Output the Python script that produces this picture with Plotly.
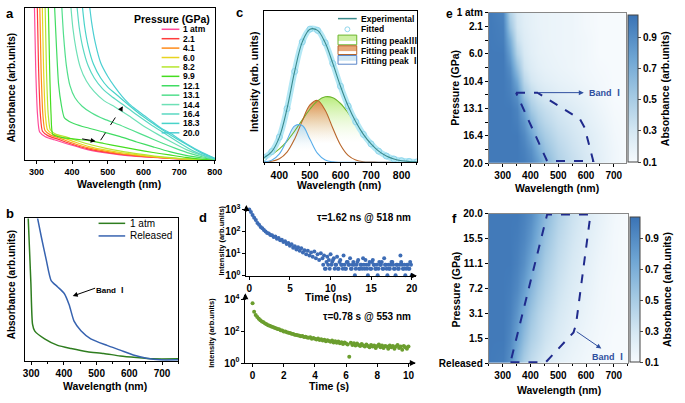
import plotly.graph_objects as go

W, H = 685, 403
FONT = "Liberation Sans, Arial, sans-serif"
CJK = "<span style=\"font-family:'Noto Sans CJK SC'\">{}</span>"


def px(x):
    return x / W


def py(y):
    return 1 - y / H


# ---------------- (a) absorption spectra under pressure
a_labels = ['1 atm', '2.1', '4.1', '6.0', '8.2', '9.9', '12.1', '13.1', '14.4', '16.4', '18.3', '20.0']
a_colors = ['#ff4b9b', '#ff3b3b', '#ff8c1a', '#e8d420', '#b6e62e', '#45dd1f',
            '#40dc62', '#52df8c', '#6ee0b6', '#5ad8c2', '#49d3c9', '#4ccfd2']

wl_1atm = [294, 298, 303, 309, 325, 350, 397, 443, 490, 535, 580, 627, 673, 719, 760, 800]
ab_1atm = [1.05, 0.6, 0.3, 0.185, 0.155, 0.135, 0.1, 0.07, 0.05, 0.036, 0.026, 0.018, 0.012, 0.007, 0.003, 0.0]
wl_2p1 = [302, 306, 311, 317, 333, 358, 400, 445, 490, 535, 580, 627, 673, 719, 760, 800]
ab_2p1 = [1.05, 0.6, 0.3, 0.19, 0.16, 0.14, 0.105, 0.075, 0.055, 0.04, 0.029, 0.02, 0.013, 0.007, 0.003, 0.0]
wl_4p1 = [309, 313, 318, 324, 340, 365, 405, 448, 492, 537, 582, 627, 673, 719, 760, 800]
ab_4p1 = [1.05, 0.6, 0.3, 0.195, 0.165, 0.145, 0.11, 0.08, 0.06, 0.043, 0.031, 0.022, 0.014, 0.008, 0.003, 0.0]
wl_6p0 = [316, 320, 325, 331, 347, 372, 410, 450, 495, 540, 585, 630, 675, 720, 760, 800]
ab_6p0 = [1.05, 0.6, 0.3, 0.2, 0.17, 0.15, 0.118, 0.088, 0.066, 0.048, 0.035, 0.024, 0.015, 0.008, 0.003, 0.0]
wl_8p2 = [324, 328, 333, 339, 355, 380, 415, 455, 495, 540, 585, 630, 675, 720, 760, 800]
ab_8p2 = [1.05, 0.6, 0.3, 0.2, 0.17, 0.155, 0.128, 0.1, 0.078, 0.058, 0.042, 0.028, 0.017, 0.009, 0.004, 0.0]
wl_9p9 = [333, 337, 341, 346, 370, 397, 420, 443, 489, 535, 580, 627, 673, 719, 760, 800]
ab_9p9 = [1.05, 0.6, 0.3, 0.17, 0.15, 0.142, 0.136, 0.13, 0.11, 0.089, 0.07, 0.051, 0.035, 0.019, 0.008, 0.001]
wl_12p1 = [350, 356, 362, 370, 378, 392, 406, 440, 489, 535, 581, 627, 673, 719, 765, 800]
ab_12p1 = [1.05, 0.75, 0.5, 0.36, 0.28, 0.255, 0.24, 0.215, 0.185, 0.155, 0.12, 0.088, 0.057, 0.032, 0.015, 0.004]
wl_13p1 = [370, 376, 384, 394, 408, 428, 455, 490, 530, 570, 610, 650, 690, 730, 770, 800]
ab_13p1 = [1.05, 0.82, 0.62, 0.49, 0.41, 0.355, 0.31, 0.27, 0.235, 0.195, 0.155, 0.115, 0.078, 0.045, 0.02, 0.006]
wl_14p4 = [395, 402, 411, 423, 440, 462, 490, 520, 560, 600, 640, 680, 720, 765, 800]
ab_14p4 = [1.05, 0.87, 0.73, 0.61, 0.52, 0.45, 0.39, 0.35, 0.29, 0.225, 0.17, 0.118, 0.07, 0.03, 0.007]
wl_16p4 = [412, 420, 430, 445, 462, 485, 510, 540, 580, 620, 660, 700, 740, 780, 800]
ab_16p4 = [1.05, 0.87, 0.74, 0.62, 0.54, 0.47, 0.42, 0.37, 0.3, 0.235, 0.175, 0.115, 0.06, 0.022, 0.01]
wl_18p3 = [427, 435, 445, 460, 480, 500, 530, 560, 600, 640, 680, 720, 760, 800]
ab_18p3 = [1.05, 0.88, 0.75, 0.63, 0.54, 0.48, 0.42, 0.36, 0.285, 0.22, 0.16, 0.105, 0.05, 0.012]
wl_20p0 = [447, 455, 465, 480, 500, 520, 540, 560, 581, 604, 627, 650, 673, 719, 765, 800]
ab_20p0 = [1.05, 0.9, 0.77, 0.64, 0.55, 0.48, 0.42, 0.37, 0.33, 0.29, 0.25, 0.21, 0.18, 0.11, 0.05, 0.012]

a_curves = [(wl_1atm, ab_1atm), (wl_2p1, ab_2p1), (wl_4p1, ab_4p1), (wl_6p0, ab_6p0),
            (wl_8p2, ab_8p2), (wl_9p9, ab_9p9), (wl_12p1, ab_12p1), (wl_13p1, ab_13p1),
            (wl_14p4, ab_14p4), (wl_16p4, ab_16p4), (wl_18p3, ab_18p3), (wl_20p0, ab_20p0)]

# ---------------- (b) 1 atm vs released
wl_b_atm = [290, 299, 304, 311, 341, 381, 422, 472, 522, 572, 622, 673, 750]
ab_b_atm = [1.05, 0.55, 0.26, 0.21, 0.156, 0.11, 0.088, 0.066, 0.054, 0.036, 0.025, 0.016, 0.016]
wl_b_rel = [317, 331, 346, 361, 381, 401, 416, 431, 452, 482, 532, 572, 612, 653, 693, 750]
ab_b_rel = [1.03, 0.87, 0.71, 0.565, 0.52, 0.474, 0.395, 0.28, 0.213, 0.156, 0.11, 0.077, 0.043, 0.02, 0.009, 0.009]

# ---------------- (c) PL fit
c_wl = [350, 375, 400, 425, 450, 475, 500, 525, 550, 575, 600, 625, 650, 675, 700, 725, 750, 775, 800, 825, 850]
c_exp = [0.03, 0.07, 0.166, 0.354, 0.6, 0.795, 0.879, 0.871, 0.789, 0.652, 0.502, 0.371, 0.267, 0.184,
         0.121, 0.073, 0.041, 0.021, 0.01, 0.005, 0.002]
c_peak1 = [0.002, 0.013, 0.055, 0.147, 0.24, 0.242, 0.151, 0.058, 0.014, 0.002, 0, 0, 0, 0, 0, 0, 0, 0, 0, 0, 0]
c_peak2 = [0.001, 0.006, 0.023, 0.067, 0.154, 0.273, 0.378, 0.408, 0.343, 0.224, 0.114, 0.045, 0.014,
           0.003, 0.001, 0, 0, 0, 0, 0, 0]
c_peak3 = [0.027, 0.051, 0.088, 0.14, 0.206, 0.28, 0.35, 0.405, 0.432, 0.426, 0.388, 0.326, 0.253,
           0.181, 0.12, 0.073, 0.041, 0.021, 0.01, 0.005, 0.002]

# ---------------- (d) decays
d_ns_counts = [1000, 760, 560, 420, 330, 240, 200, 160, 140, 115, 100, 85, 80, 68, 66, 55, 58, 46, 50, 40,
               42, 33, 36, 27, 30, 22, 26, 18, 21, 15, 19, 13, 17, 11, 14, 9, 13, 8, 11, 7,
               12, 6, 9, 5, 10, 6, 8, 2, 7, 5, 9, 4, 6, 3, 7, 2, 5, 3, 8, 2,
               4, 3, 6, 2, 4, 1, 3, 5, 2, 3, 6, 2, 3, 1, 4, 2, 5, 3, 2, 1,
               4, 3, 2, 6, 3, 1, 2, 3, 4, 2, 1, 3, 2, 8, 3, 2, 1, 3, 2, 4, 1]
d_ns_t = [i * 0.2 for i in range(len(d_ns_counts))]
d_ns_floor = [3, 2, 4, 3, 2, 3, 5, 2, 3, 2, 4, 3, 2, 3, 2, 4, 3, 2, 3, 3, 2, 4, 2, 3, 2, 3, 5, 2,
              3, 2, 4, 3, 2, 3, 2, 3, 4, 2, 3, 2, 3, 2, 4, 3, 2, 3, 2, 3, 4, 2, 3, 2, 3, 2, 3]
d_ns_floor_t = [9.1 + i * 0.2 for i in range(len(d_ns_floor))]

d_s_counts = [6000, 1800, 1100, 820, 640, 520, 430, 380, 320, 290,
              250, 230, 205, 190, 170, 160, 145, 138, 120, 115,
              100, 98, 88, 84, 80, 72, 70, 63, 60, 58,
              54, 50, 52, 44, 47, 42, 40, 43, 35, 38,
              34, 31, 36, 29, 32, 27, 30, 24, 28, 25,
              22, 27, 20, 24, 19, 23, 18, 21, 16, 20,
              17, 15, 2.5, 19, 14, 18, 13, 17, 14, 12,
              16, 13, 11, 15, 12, 10, 14, 11, 13, 9,
              12, 15, 10, 13, 9, 12, 11, 8, 13, 10,
              12, 8, 11, 14, 9, 11, 7, 12, 10, 8, 11]
d_s_t = [i * 0.1 for i in range(len(d_s_counts))]

# ---------------- (e) / (f) absorbance maps
hm_wl = [250, 300, 325, 350, 375, 400, 425, 450, 500, 550, 600, 650, 700, 750]
e_pressures = ['1 atm', '2.1', '4.1', '6.0', '8.2', '10.4', '12.1', '13.1', '14.4', '16.4', '18.3', '20.0']
e_labelled = [0, 1, 3, 5, 7, 9, 11]
e_z = [
    [1.0, 0.95, 0.45, 0.28, 0.22, 0.2, 0.18, 0.17, 0.16, 0.15, 0.12, 0.1, 0.1, 0.1],
    [1.0, 0.97, 0.55, 0.3, 0.23, 0.2, 0.18, 0.17, 0.16, 0.15, 0.12, 0.1, 0.1, 0.1],
    [1.0, 0.98, 0.7, 0.35, 0.25, 0.21, 0.19, 0.17, 0.16, 0.15, 0.13, 0.1, 0.1, 0.1],
    [1.0, 1.0, 0.8, 0.45, 0.28, 0.22, 0.19, 0.18, 0.16, 0.15, 0.13, 0.1, 0.1, 0.1],
    [1.0, 1.0, 0.9, 0.6, 0.33, 0.25, 0.21, 0.19, 0.17, 0.15, 0.13, 0.11, 0.1, 0.1],
    [1.0, 1.0, 0.95, 0.75, 0.42, 0.3, 0.25, 0.22, 0.19, 0.17, 0.14, 0.12, 0.1, 0.1],
    [1.0, 1.0, 0.97, 0.88, 0.55, 0.4, 0.32, 0.28, 0.23, 0.2, 0.17, 0.13, 0.1, 0.1],
    [1.0, 1.0, 1.0, 0.95, 0.75, 0.52, 0.42, 0.36, 0.29, 0.25, 0.2, 0.15, 0.11, 0.1],
    [1.0, 1.0, 1.0, 0.97, 0.85, 0.65, 0.5, 0.42, 0.33, 0.28, 0.22, 0.17, 0.12, 0.1],
    [1.0, 1.0, 1.0, 1.0, 0.92, 0.78, 0.6, 0.5, 0.38, 0.31, 0.25, 0.19, 0.13, 0.1],
    [1.0, 1.0, 1.0, 1.0, 0.96, 0.88, 0.72, 0.58, 0.43, 0.34, 0.27, 0.2, 0.14, 0.1],
    [1.0, 1.0, 1.0, 1.0, 0.98, 0.93, 0.82, 0.66, 0.47, 0.37, 0.29, 0.21, 0.14, 0.1],
]
f_pressures = ['Released', '1.5', '3.1', '7.2', '11.1', '15.5', '20.0']
f_z = [
    [1.0, 0.98, 0.88, 0.65, 0.48, 0.38, 0.32, 0.27, 0.2, 0.16, 0.13, 0.11, 0.1, 0.1],
    [1.0, 1.0, 0.93, 0.78, 0.6, 0.47, 0.4, 0.33, 0.25, 0.19, 0.15, 0.12, 0.1, 0.1],
    [1.0, 1.0, 0.96, 0.85, 0.7, 0.55, 0.45, 0.38, 0.29, 0.22, 0.17, 0.13, 0.11, 0.1],
    [1.0, 1.0, 0.98, 0.92, 0.8, 0.65, 0.53, 0.44, 0.33, 0.25, 0.19, 0.14, 0.11, 0.1],
    [1.0, 1.0, 1.0, 0.96, 0.88, 0.75, 0.62, 0.5, 0.37, 0.28, 0.21, 0.15, 0.12, 0.1],
    [1.0, 1.0, 1.0, 0.98, 0.93, 0.84, 0.7, 0.57, 0.41, 0.31, 0.23, 0.17, 0.12, 0.1],
    [1.0, 1.0, 1.0, 1.0, 0.96, 0.9, 0.78, 0.64, 0.46, 0.34, 0.26, 0.19, 0.13, 0.1],
]
# band I outlines (wavelength, row index)
e_band_wl = [348, 425, 578, 595, 626, 460, 348]
e_band_row = [5.84, 5.84, 7.78, 8.4, 10.85, 10.85, 5.84]
f_band_wl = [328, 455, 555, 564, 616, 460, 328]
f_band_row = [0.03, 0.03, 1.23, 1.56, 5.97, 5.97, 0.03]

hm_scale = [[0, '#f6fafd'], [0.2, '#d6e8f3'], [0.45, '#a3c9e3'], [0.7, '#6fa6d4'], [1, '#3a73b5']]


def tfont(size=10, color='black'):
    return dict(family=FONT, size=size, color=color, weight='bold')


def axis(domain, rng, **kw):
    d = dict(domain=domain, range=rng, showgrid=False, zeroline=False, showline=True,
             linecolor='black', linewidth=1, ticks='outside', ticklen=3, tickwidth=1,
             tickcolor='black', tickfont=tfont(10))
    d.update(kw)
    return d


fig = go.Figure()

# (a)
for (wl, ab), name, col in zip(a_curves, a_labels, a_colors):
    fig.add_trace(go.Scatter(x=wl, y=ab, mode='lines', name=name, xaxis='x', yaxis='y',
                             line=dict(color=col, width=1.2, shape='spline', smoothing=0.6)))

# (b)
fig.add_trace(go.Scatter(x=wl_b_atm, y=ab_b_atm, mode='lines', xaxis='x2', yaxis='y2',
                         line=dict(color='#2e7d1f', width=1.5, shape='spline', smoothing=0.6)))
fig.add_trace(go.Scatter(x=wl_b_rel, y=ab_b_rel, mode='lines', xaxis='x2', yaxis='y2',
                         line=dict(color='#3763b0', width=1.5, shape='spline', smoothing=0.6)))

# (c)
peaks = [(c_peak3, '#6cb52d', '#b9ec7c'), (c_peak2, '#b8662a', '#df8a4a'), (c_peak1, '#5aaeea', '#b5dcf2')]
for vals, lc, fc in peaks:
    fig.add_trace(go.Scatter(x=c_wl, y=vals, mode='lines', xaxis='x3', yaxis='y3', fill='tozeroy',
                             line=dict(width=0, shape='spline'),
                             fillgradient=dict(type='vertical',
                                               colorscale=[[0, 'rgba(255,255,255,0)'], [0.3, 'rgba(255,255,255,0.3)'],
                                                           [1, fc]])))
for vals, lc, fc in peaks:
    fig.add_trace(go.Scatter(x=c_wl, y=vals, mode='lines', xaxis='x3', yaxis='y3',
                             line=dict(color=lc, width=1.1, shape='spline')))
fig.add_trace(go.Scatter(x=c_wl, y=c_exp, mode='lines', xaxis='x3', yaxis='y3',
                         line=dict(color='#b4e8f5', width=6, shape='spline')))
fig.add_trace(go.Scatter(x=c_wl, y=c_exp, mode='markers', xaxis='x3', yaxis='y3',
                         marker=dict(symbol='circle-open', size=6, color='#8fd6ec', line=dict(width=1))))
fig.add_trace(go.Scatter(x=c_wl, y=c_exp, mode='lines', xaxis='x3', yaxis='y3',
                         line=dict(color='#3a8a8c', width=1.1, shape='spline')))

# (d)
fig.add_trace(go.Scatter(x=d_ns_t, y=d_ns_counts, mode='markers', xaxis='x4', yaxis='y4', cliponaxis=False,
                         marker=dict(size=4, color='#3d6cb5')))
fig.add_trace(go.Scatter(x=d_ns_floor_t, y=d_ns_floor, mode='markers', xaxis='x4', yaxis='y4',
                         marker=dict(size=4, color='#3d6cb5')))
fig.add_trace(go.Scatter(x=d_s_t, y=d_s_counts, mode='markers', xaxis='x5', yaxis='y5',
                         marker=dict(size=4, color='#6b9e2e')))

# (e) / (f)
cb_common = dict(thickness=10, thicknessmode='pixels', lenmode='fraction', xanchor='left', yanchor='bottom',
                 xpad=0, ypad=0, outlinewidth=1, outlinecolor='#444', tickvals=[0.1, 0.3, 0.5, 0.7, 0.9],
                 ticks='outside', ticklen=3, tickfont=tfont(10),
                 title=dict(text='Absorbance (arb.units)', side='right', font=tfont(10.5)))
fig.add_trace(go.Heatmap(x=hm_wl, y=list(range(len(e_pressures))), z=e_z, xaxis='x6', yaxis='y6',
                         zsmooth='best', colorscale=hm_scale, zmin=0.1, zmax=1.04,
                         colorbar=dict(cb_common, x=px(635), y=py(161), len=151 / H)))
fig.add_trace(go.Heatmap(x=hm_wl, y=list(range(len(f_pressures))), z=f_z, xaxis='x7', yaxis='y7',
                         zsmooth='best', colorscale=hm_scale, zmin=0.1, zmax=1.04,
                         colorbar=dict(cb_common, x=px(637), y=py(367), len=149 / H)))
fig.add_trace(go.Scatter(x=e_band_wl, y=e_band_row, mode='lines', xaxis='x6', yaxis='y6',
                         line=dict(color='#1f2a8c', width=2, dash='dash')))
fig.add_trace(go.Scatter(x=f_band_wl, y=f_band_row, mode='lines', xaxis='x7', yaxis='y7',
                         line=dict(color='#1f2a8c', width=2, dash='dash')))

hm_axis = dict(linecolor='#888', mirror=True)

fig.update_layout(
    width=W, height=H, margin=dict(l=0, r=0, t=0, b=0), showlegend=False,
    paper_bgcolor='white', plot_bgcolor='white', font=dict(family=FONT, color='black'),
    xaxis=axis([px(23), px(216)], [267, 800], anchor='y', mirror=True, dtick=100, tick0=0,
               tickfont=tfont(9), minor=dict(dtick=50, ticks='outside', ticklen=2)),
    yaxis=axis([py(159), py(2)], [0, 1], anchor='x', mirror=True, ticks='', showticklabels=False),
    xaxis2=axis([px(23), px(179)], [280, 750], anchor='y2', mirror=True, dtick=100, tick0=0,
                minor=dict(dtick=50, ticks='outside', ticklen=2)),
    yaxis2=axis([py(366), py(219)], [0, 1], anchor='x2', mirror=True, ticks='', showticklabels=False),
    xaxis3=axis([px(266), px(421)], [350, 850], anchor='y3', mirror=True, dtick=100, tick0=0,
                tickfont=tfont(10.5), minor=dict(dtick=50, ticks='outside', ticklen=2)),
    yaxis3=axis([py(161), py(5)], [0, 1], anchor='x3', mirror=True, ticks='', showticklabels=False),
    xaxis4=axis([px(248), px(420)], [-0.36, 20.5], anchor='y4', tickvals=[0, 5, 10, 15, 20],
                tickfont=tfont(10)),
    yaxis4=axis([py(278), py(207)], [-0.02, 3.12], anchor='x4', type='log',
                tickvals=[1, 10, 100, 1000],
                ticktext=['10<sup>0</sup>', '10<sup>1</sup>', '10<sup>2</sup>', '10<sup>3</sup>']),
    xaxis5=axis([px(247), px(419)], [-0.46, 10.41], anchor='y5', tickvals=[0, 2, 4, 6, 8, 10],
                tickfont=tfont(10)),
    yaxis5=axis([py(368), py(298)], [0, 4.3], anchor='x5', type='log', tickvals=[1, 100, 10000],
                ticktext=['10<sup>0</sup>', '10<sup>2</sup>', '10<sup>4</sup>']),
    xaxis6=axis([px(494), px(633)], [250, 743], anchor='y6', dtick=100, tick0=0,
                minor=dict(dtick=50, ticks='outside', ticklen=2), **hm_axis),
    yaxis6=axis([py(162), py(7)], [11, 0], anchor='x6', tickvals=list(range(len(e_pressures))),
                ticktext=[p if i in e_labelled else '' for i, p in enumerate(e_pressures)], **hm_axis),
    xaxis7=axis([px(494), px(635)], [250, 750], anchor='y7', dtick=100, tick0=0,
                minor=dict(dtick=50, ticks='outside', ticklen=2), **hm_axis),
    yaxis7=axis([py(368), py(214)], [0, 6], anchor='x7', tickvals=list(range(len(f_pressures))),
                ticktext=f_pressures, **hm_axis),
)


def note(text, x, y, size=10.5, angle=0, color='black', xanchor='center', weight='bold'):
    return dict(text=text, x=px(x), y=py(y), xref='paper', yref='paper', showarrow=False,
                textangle=angle, xanchor=xanchor, yanchor='middle',
                font=dict(family=FONT, size=size, color=color, weight=weight))


def paper_arrow(x, y, ax, ay):
    return dict(x=px(x), y=py(y), xref='paper', yref='paper', ax=ax, ay=ay, text='', showarrow=True,
                arrowhead=2, arrowsize=1, arrowwidth=1.2, arrowcolor='black')


band_txt = 'Band ' + CJK.format('Ⅰ')
anns = [
    note('a', 8, 8, 13), note('b', 8, 214, 13), note('c', 241, 7, 13), note('d', 204, 218, 13),
    note('e', 454, 8, 12), note('f', 459, 219, 13),
    # axis titles
    note('Absorbance (arb.units)', 10, 84, 10, -90), note('Wavelength (nm)', 119, 183),
    note('Absorbance (arb.units)', 10, 287, 10, -90), note('Wavelength (nm)', 105, 392),
    note('Intensity (arb. units)', 255, 78, 10.5, -90), note('Wavelength (nm)', 342, 184),
    note('Intensity (arb.units)', 223, 242, 7.5, -90), note('Intensity (arb.units)', 213, 337, 7.5, -90),
    note('Time (ns)', 331, 299.5), note('Time (s)', 332, 392),
    note('Pressure (GPa)', 460, 84, 10.5, -90), note('Wavelength (nm)', 563, 188),
    note('Pressure (GPa)', 461, 292, 10.5, -90), note('Wavelength (nm)', 565, 396),
    # (a) legend title
    note('Pressure (GPa)', 173, 13, 10.5),
    # (b) legend
    note('1 atm', 128, 224, 10, xanchor='left', weight='normal'),
    note('Released', 128, 237, 10, xanchor='left', weight='normal'),
    note(band_txt, 111, 292, 8),
    # (c) legend
    note('Experimental', 362, 13, 8.5, xanchor='left'), note('Fitted', 362, 24, 8.5, xanchor='left'),
    note('Fitting peak' + CJK.format('Ⅲ'), 362, 35, 8.5, xanchor='left'),
    note('Fitting peak' + CJK.format('Ⅱ'), 362, 45.5, 8.5, xanchor='left'),
    note('Fitting peak ' + CJK.format('Ⅰ'), 362, 55.5, 8.5, xanchor='left'),
    # (d) lifetimes
    note('τ=1.62 ns @ 518 nm', 417, 218, 10, xanchor='right'),
    note('τ=0.78 s @ 553 nm', 417, 320, 10, xanchor='right'),
    # axis arrows in (d)
    paper_arrow(421, 278, -8, 0), paper_arrow(248, 205, 0, 8),
    paper_arrow(420, 368, -8, 0), paper_arrow(247, 296, 0, 8),
    # band I labels
    dict(text=band_txt, x=672, y=5.84, xref='x6', yref='y6', showarrow=False, font=tfont(9, '#2f4f9f')),
    dict(text='', x=592, y=5.84, ax=425, ay=5.84, xref='x6', yref='y6', axref='x6', ayref='y6',
         showarrow=True, arrowhead=2, arrowsize=1, arrowwidth=1, arrowcolor='#2f4f9f'),
    dict(text=band_txt, x=682, y=0.25, xref='x7', yref='y7', showarrow=False, font=tfont(9, '#2f4f9f')),
    dict(text='', x=655, y=0.58, ax=561, ay=1.3, xref='x7', yref='y7', axref='x7', ayref='y7',
         showarrow=True, arrowhead=2, arrowsize=1, arrowwidth=1, arrowcolor='#2f4f9f'),
    # (b) band arrow
    dict(text='', x=427, y=0.456, ax=500, ay=0.515, xref='x2', yref='y2', axref='x2', ayref='y2',
         showarrow=True, arrowhead=2, arrowsize=1, arrowwidth=1, arrowcolor='black'),
    # (a) arrows
    dict(text='', x=466, y=0.125, ax=424, ay=0.142, xref='x', yref='y', axref='x', ayref='y',
         showarrow=True, arrowhead=2, arrowsize=1, arrowwidth=1, arrowcolor='black'),
    dict(text='', x=542, y=0.355, ax=536, ay=0.33, xref='x', yref='y', axref='x', ayref='y',
         showarrow=True, arrowhead=2, arrowsize=1, arrowwidth=1, arrowcolor='black'),
]

# (a) legend entries
for i, name in enumerate(a_labels):
    anns.append(note(name, 182, 24 + i * 9.7, 8.5, xanchor='left'))

shapes = []
for i, col in enumerate(a_colors):
    yy = 24 + i * 9.7
    shapes.append(dict(type='line', xref='paper', yref='paper', x0=px(162), x1=px(180), y0=py(yy), y1=py(yy),
                       line=dict(color=col, width=1.5)))
# (a) dashed arrow shaft
shapes.append(dict(type='line', xref='x', yref='y', x0=480, y0=0.132, x1=539, y1=0.345,
                   line=dict(color='black', width=1, dash='dash')))
# (b) legend lines
shapes.append(dict(type='line', xref='paper', yref='paper', x0=px(98), x1=px(125), y0=py(224), y1=py(224),
                   line=dict(color='#2e7d1f', width=1.5)))
shapes.append(dict(type='line', xref='paper', yref='paper', x0=px(98), x1=px(125), y0=py(237), y1=py(237),
                   line=dict(color='#3763b0', width=1.5)))
# (c) legend symbols
shapes.append(dict(type='line', xref='paper', yref='paper', x0=px(341), x1=px(360), y0=py(13), y1=py(13),
                   line=dict(color='#3a8a8c', width=1.5)))
shapes.append(dict(type='circle', xref='paper', yref='paper', x0=px(348), x1=px(353), y0=py(26.5), y1=py(21.5),
                   line=dict(color='#8fd6ec', width=1)))
for (top, bot), lc, fc in zip([(30, 40), (41, 50), (51, 60)], ['#6cb52d', '#b8662a', '#5a86c8'],
                              ['#cdf0a4', '#e8a878', '#cfe6f4']):
    shapes.append(dict(type='rect', xref='paper', yref='paper', x0=px(341), x1=px(360),
                       y0=py((top + bot) / 2 + 1), y1=py(top), fillcolor=fc, line=dict(width=0)))
    shapes.append(dict(type='rect', xref='paper', yref='paper', x0=px(341), x1=px(360), y0=py(bot), y1=py(top),
                       line=dict(color=lc, width=1)))

fig.update_layout(annotations=anns, shapes=shapes)

# plotly's page template keeps the default 8px body margin; drop it so the figure sits at (0, 0)
fig.write_html("out.html", config={'displayModeBar': False},
               post_script="document.body.style.margin='0';")
